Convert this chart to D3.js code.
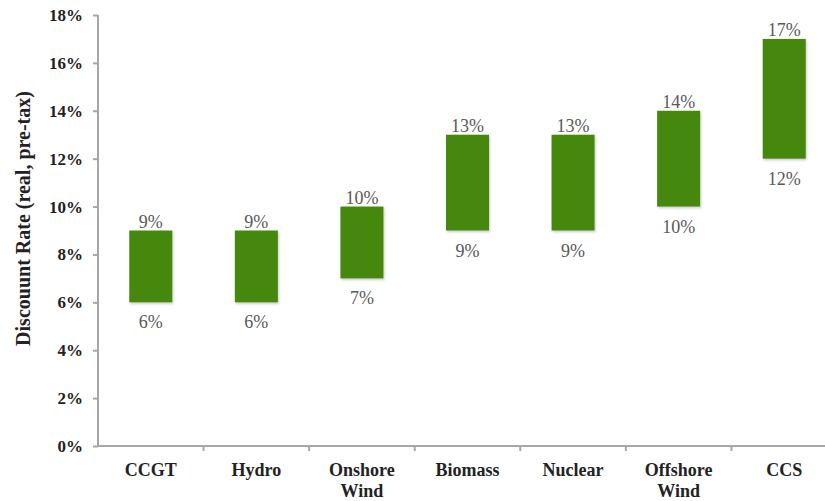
<!DOCTYPE html>
<html>
<head>
<meta charset="utf-8">
<script src="https://cdn.jsdelivr.net/npm/d3@7"></script>
<style>
  body { margin: 0; background: #fff; }
  svg { display: block; }
  .axis path, .axis line { stroke: #a6a6a6; stroke-width: 2; }
  .axis text { font-family: "Liberation Serif", "DejaVu Serif", serif; font-weight: bold; fill: #222; }
</style>
</head>
<body>
<div id="chart"></div>
<script>
// Data
var categories = ["CCGT", "Hydro", "Onshore Wind", "Biomass", "Nuclear", "Offshore Wind", "CCS"];
var lowRates = [6, 6, 7, 9, 9, 10, 12];
var highRates = [9, 9, 10, 13, 13, 14, 17];
var yTicks = [0, 2, 4, 6, 8, 10, 12, 14, 16, 18];

var totalW = 825, totalH = 501;
var margin = {top: 15, right: -12, bottom: 55, left: 98},
    width = totalW - margin.left - margin.right,
    height = totalH - margin.top - margin.bottom;

var rows = categories.map(function(c, i) {
  return {name: c, low: lowRates[i], high: highRates[i]};
});

var x = d3.scaleBand()
  .domain(categories)
  .range([0, width]);

var y = d3.scaleLinear()
  .domain([0, 18])
  .range([height, 0]);

var svg = d3.select("#chart").append("svg")
  .attr("width", totalW)
  .attr("height", totalH)
  .append("g")
  .attr("transform", "translate(" + margin.left + "," + margin.top + ")");

// small shadow under the bars
var defs = svg.append("defs");
var f = defs.append("filter").attr("id", "shadow")
  .attr("x", "-20%").attr("y", "-20%").attr("width", "140%").attr("height", "140%");
f.append("feDropShadow").attr("dx", 1).attr("dy", 1.5).attr("stdDeviation", 1.2)
  .attr("flood-color", "#000").attr("flood-opacity", 0.22);

// Y axis
var yAxis = d3.axisLeft(y)
  .tickValues(yTicks)
  .tickSize(5)
  .tickPadding(10)
  .tickFormat(function(d) { return d + "%"; });

var gy = svg.append("g").attr("class", "axis").call(yAxis);
gy.select(".domain").attr("d", "M0," + height + "V0");
gy.selectAll("text").style("font-size", "17px");

// X axis
var xAxis = d3.axisBottom(x).tickSize(0).tickPadding(17);
var gx = svg.append("g").attr("class", "axis")
  .attr("transform", "translate(0," + height + ")")
  .call(xAxis);
gx.select(".domain").attr("d", "M0,0H" + width);
gx.selectAll("text").style("font-size", "18px").each(function(d) {
  var t = d3.select(this), words = d.split(" ");
  if (words.length > 1) {
    t.text(null);
    words.forEach(function(w, i) {
      t.append("tspan").attr("x", 0).attr("dy", i === 0 ? "0.71em" : "1.2em").text(w);
    });
    t.attr("dy", null);
  }
});
// category boundary ticks
gx.selectAll(".sep")
  .data(categories.slice(1))
  .enter().append("line")
  .attr("class", "sep")
  .attr("x1", function(d) { return x(d); })
  .attr("x2", function(d) { return x(d); })
  .attr("y1", 0).attr("y2", 5);

// Floating bars
var barW = 43;
svg.selectAll("rect.bar")
  .data(rows)
  .enter().append("rect")
  .attr("class", "bar")
  .attr("x", function(d) { return x(d.name) + x.bandwidth() / 2 - barW / 2; })
  .attr("y", function(d) { return y(d.high); })
  .attr("width", barW)
  .attr("height", function(d) { return y(d.low) - y(d.high); })
  .attr("fill", "#44880f")
  .attr("filter", "url(#shadow)");

// Value labels
var labelFont = '"Liberation Serif", "DejaVu Serif", serif';
svg.selectAll("text.hi")
  .data(rows)
  .enter().append("text")
  .attr("class", "hi")
  .attr("x", function(d) { return x(d.name) + x.bandwidth() / 2; })
  .attr("y", function(d) { return y(d.high) - 3; })
  .attr("text-anchor", "middle")
  .style("font-family", labelFont)
  .style("font-size", "18px")
  .style("fill", "#595959")
  .text(function(d) { return d.high + "%"; });

svg.selectAll("text.lo")
  .data(rows)
  .enter().append("text")
  .attr("class", "lo")
  .attr("x", function(d) { return x(d.name) + x.bandwidth() / 2; })
  .attr("y", function(d) { return y(d.low) + 26; })
  .attr("text-anchor", "middle")
  .style("font-family", labelFont)
  .style("font-size", "18px")
  .style("fill", "#595959")
  .text(function(d) { return d.low + "%"; });

// Y axis title
svg.append("text")
  .attr("text-anchor", "middle")
  .attr("transform", "translate(-68," + (height / 2 - 12) + ") rotate(-90)")
  .style("font-family", labelFont)
  .style("font-weight", "bold")
  .style("font-size", "20px")
  .style("fill", "#222")
  .text("Discouunt Rate (real, pre-tax)");
</script>
</body>
</html>
